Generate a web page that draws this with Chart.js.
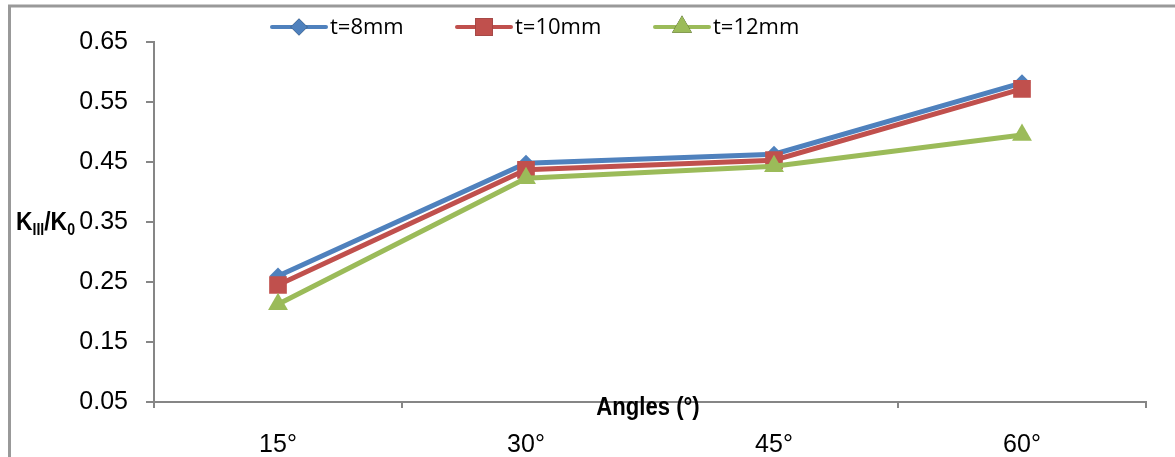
<!DOCTYPE html>
<html>
<head>
<meta charset="utf-8">
<script src="https://cdn.jsdelivr.net/npm/chart.js@4.4.0/dist/chart.umd.min.js"></script>
<style>
  html, body { margin: 0; padding: 0; background: #fff; }
  #wrap { position: relative; width: 1175px; height: 457px; }
</style>
</head>
<body>
<div id="wrap"><canvas id="chart" width="1175" height="457"></canvas></div>
<script>
// data
const angles = ['15°', '30°', '45°', '60°'];
const t8 = [0.260, 0.448, 0.463, 0.582];
const t10 = [0.245, 0.437, 0.453, 0.572];
const t12 = [0.213, 0.423, 0.443, 0.495];
const seriesNames = ['t=8mm', 't=10mm', 't=12mm'];

const SANS = "'Liberation Sans', Arial, sans-serif";
const AXIS = '#868686';

// frame, legend and axis titles drawn by hand
const decorations = {
    id: 'decorations',
    afterDraw(chart) {
        const ctx = chart.ctx;
        ctx.save();

        // outer frame
        ctx.strokeStyle = '#999999';
        ctx.lineWidth = 3;
        ctx.beginPath();
        ctx.moveTo(9.5, 460);
        ctx.lineTo(9.5, 6);
        ctx.lineTo(1176, 6);
        ctx.stroke();

        // legend: line + marker + text
        const legendX = [272, 457, 655];
        chart.data.datasets.forEach((ds, i) => {
            const x0 = legendX[i], y = 27;
            ctx.strokeStyle = ds.borderColor;
            ctx.lineWidth = 4;
            ctx.lineCap = 'round';
            ctx.beginPath();
            ctx.moveTo(x0, y);
            ctx.lineTo(x0 + 54, y);
            ctx.stroke();
            Chart.helpers.drawPoint(ctx, {
                pointStyle: ds.pointStyle,
                radius: ds.pointRadius,
                rotation: 0,
                borderWidth: 0
            }, x0 + 27, y);
            ctx.fillStyle = ds.backgroundColor;
            ctx.fill();
            ctx.fillStyle = '#000';
            ctx.font = "22px 'Open Sans', sans-serif";
            ctx.textBaseline = 'middle';
            ctx.textAlign = 'left';
            ctx.fillText(ds.label, x0 + 58, y + 1);
        });

        // x title (squeezed to look like a narrow face)
        ctx.fillStyle = '#000';
        ctx.font = 'bold 26px ' + SANS;
        ctx.textAlign = 'center';
        ctx.textBaseline = 'alphabetic';
        ctx.save();
        ctx.translate(648, 415);
        ctx.scale(0.85, 1);
        ctx.fillText('Angles (°)', 0, 0);
        ctx.restore();

        // y title with subscripts
        ctx.save();
        ctx.translate(16, 230);
        ctx.scale(0.88, 1);
        let x = 0;
        const parts = [
            ['K', 26, 0], ['III', 16, 5], ['/K', 26, 0], ['0', 16, 5]
        ];
        ctx.textAlign = 'left';
        parts.forEach(([txt, size, dy]) => {
            ctx.font = 'bold ' + size + 'px ' + SANS;
            ctx.fillText(txt, x, dy);
            x += ctx.measureText(txt).width;
        });
        ctx.restore();

        ctx.restore();
    }
};

new Chart(document.getElementById('chart'), {
    type: 'line',
    data: {
        labels: angles,
        datasets: [
            { label: seriesNames[0], data: t8, borderColor: '#4F81BD', backgroundColor: '#4F81BD',
              pointStyle: 'rectRot', pointRadius: 8.5, order: 3 },
            { label: seriesNames[1], data: t10, borderColor: '#C0504D', backgroundColor: '#C0504D',
              pointStyle: 'rect', pointRadius: 12.5, order: 2 },
            { label: seriesNames[2], data: t12, borderColor: '#9BBB59', backgroundColor: '#9BBB59',
              pointStyle: 'triangle', pointRadius: 11.5, order: 1 }
        ].map(ds => Object.assign(ds, { borderWidth: 5, pointBorderWidth: 0, tension: 0, fill: false }))
    },
    options: {
        responsive: false,
        animation: false,
        events: [],
        layout: { padding: { top: 42, right: 29, left: 0, bottom: 0 } },
        plugins: { legend: { display: false }, tooltip: { enabled: false } },
        scales: {
            x: {
                offset: true,
                grid: { display: true, drawOnChartArea: false, drawTicks: true, tickLength: 6,
                        offset: true, color: AXIS, lineWidth: 2 },
                border: { color: AXIS, width: 2 },
                ticks: { color: '#000', font: { family: SANS, size: 25 }, padding: 22 },
                afterFit(scale) { scale.height = 55; }
            },
            y: {
                min: 0.05,
                max: 0.65,
                ticks: { stepSize: 0.1, color: '#000', padding: 18,
                         font: { family: SANS, size: 25 },
                         callback: v => v.toFixed(2) },
                grid: { display: true, drawOnChartArea: false, drawTicks: true, tickLength: 8,
                        color: AXIS, lineWidth: 2 },
                border: { color: AXIS, width: 2 },
                afterFit(scale) { scale.width = 154; }
            }
        }
    },
    plugins: [decorations]
});
</script>
</body>
</html>
